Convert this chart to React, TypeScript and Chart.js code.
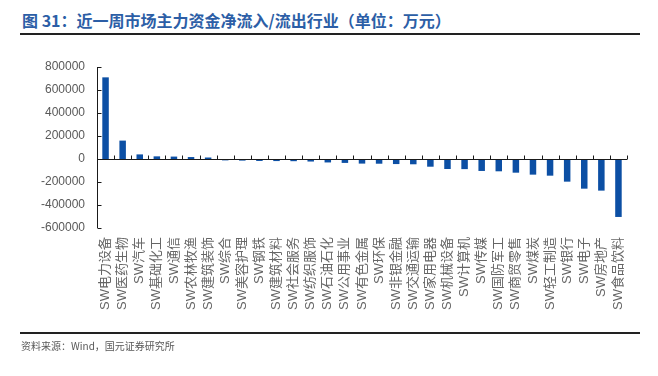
import React, { useEffect, useRef } from "react";
import { Chart, registerables } from "chart.js";

Chart.register(...registerables);

const categories = [
  "SW电力设备", "SW医药生物", "SW汽车", "SW基础化工", "SW通信", "SW农林牧渔", "SW建筑装饰",
  "SW综合", "SW美容护理", "SW钢铁", "SW建筑材料", "SW社会服务", "SW纺织服饰", "SW石油石化",
  "SW公用事业", "SW有色金属", "SW环保", "SW非银金融", "SW交通运输", "SW家用电器", "SW机械设备",
  "SW计算机", "SW传媒", "SW国防军工", "SW商贸零售", "SW煤炭", "SW轻工制造", "SW银行",
  "SW电子", "SW房地产", "SW食品饮料",
];

const netInflow = [
  710000, 160000, 40000, 23000, 21000, 17000, 13000,
  -12000, -14000, -17000, -18000, -19000, -22000, -30000,
  -34000, -40000, -41000, -44000, -46000, -67000, -87000,
  -88000, -104000, -107000, -119000, -136000, -145000, -197000,
  -258000, -275000, -504000,
];

const yMin = -600000;
const yMax = 800000;
const yStep = 200000;

const titleText = "图 31：近一周市场主力资金净流入/流出行业（单位：万元）";
const sourceText = "资料来源：Wind，国元证券研究所";

const axisPlugin = {
  id: "customAxes",
  afterDatasetsDraw(chart: any) {
    const { ctx, chartArea, scales } = chart;
    const y = scales.y;
    ctx.save();
    ctx.strokeStyle = "#1a1a1a";
    ctx.lineWidth = 1;
    // y axis line
    const ax = Math.round(chartArea.left) + 0.5;
    ctx.beginPath();
    ctx.moveTo(ax, y.top);
    ctx.lineTo(ax, y.bottom);
    ctx.stroke();
    // y ticks (inward)
    y.ticks.forEach((t: any) => {
      const py = Math.round(y.getPixelForValue(t.value)) + 0.5;
      ctx.beginPath();
      ctx.moveTo(ax, py);
      ctx.lineTo(ax + 4, py);
      ctx.stroke();
    });
    // zero line
    const zy = Math.round(y.getPixelForValue(0)) + 0.5;
    ctx.beginPath();
    ctx.moveTo(chartArea.left, zy);
    ctx.lineTo(chartArea.right, zy);
    ctx.stroke();
    // category boundary ticks (upward)
    const n = categories.length;
    const step = (chartArea.right - chartArea.left) / n;
    for (let i = 0; i <= n; i++) {
      const px = Math.round(chartArea.left + i * step) + 0.5;
      ctx.beginPath();
      ctx.moveTo(px, zy);
      ctx.lineTo(px, zy - 4);
      ctx.stroke();
    }
    ctx.restore();
  },
};

export default function App() {
  const ref = useRef<HTMLCanvasElement | null>(null);

  useEffect(() => {
    if (!ref.current) return;
    const chart = new Chart(ref.current, {
      type: "bar",
      data: {
        labels: categories,
        datasets: [
          {
            data: netInflow,
            backgroundColor: "#0C4FA4",
            borderWidth: 0,
            barPercentage: 0.38,
            categoryPercentage: 1,
          },
        ],
      },
      options: {
        animation: false,
        responsive: false,
        maintainAspectRatio: false,
        layout: { padding: { left: 0, top: 67, right: 31, bottom: 0 } },
        plugins: { legend: { display: false }, tooltip: { enabled: false } },
        scales: {
          x: {
            position: "bottom",
            grid: { display: false, drawTicks: false },
            border: { display: false },
            ticks: {
              autoSkip: false,
              maxRotation: 90,
              minRotation: 90,
              padding: 9,
              color: "#666666",
              font: { family: "'Liberation Sans', 'Noto Sans CJK SC'", size: 13 },
            },
            afterFit: (s: any) => {
              s.height = 148;
            },
          },
          y: {
            min: yMin,
            max: yMax,
            grid: { display: false, drawTicks: false },
            border: { display: false },
            ticks: {
              stepSize: yStep,
              padding: 12,
              color: "#595959",
              font: { family: "'Liberation Sans', 'Noto Sans CJK SC'", size: 12 },
              callback: (v: any) => String(v),
            },
            afterFit: (s: any) => {
              s.width = 97;
            },
          },
        },
      },
      plugins: [axisPlugin],
    });
    return () => chart.destroy();
  }, []);

  return (
    <div style={{ position: "absolute", left: 0, top: 0, width: 658, height: 376, background: "#fff", overflow: "hidden" }}>
      <div
        style={{
          position: "absolute",
          left: 22,
          top: 9,
          fontFamily: "'Noto Sans CJK SC', 'Liberation Sans', sans-serif",
          fontWeight: 700,
          fontSize: 16,
          lineHeight: "22px",
          color: "#2C5EA6",
          whiteSpace: "nowrap",
        }}
      >
        {titleText}
      </div>
      <div style={{ position: "absolute", left: 20, top: 33, width: 620, height: 2, background: "#222" }} />
      <canvas ref={ref} width={658} height={376} style={{ position: "absolute", left: 0, top: 0 }} />
      <div style={{ position: "absolute", left: 20, top: 332, width: 620, height: 1.5, background: "#222" }} />
      <div
        style={{
          position: "absolute",
          left: 21,
          top: 339,
          fontFamily: "'Noto Sans CJK SC', 'Liberation Sans', sans-serif",
          fontSize: 10,
          lineHeight: "14px",
          color: "#595959",
          whiteSpace: "nowrap",
        }}
      >
        {sourceText}
      </div>
    </div>
  );
}
